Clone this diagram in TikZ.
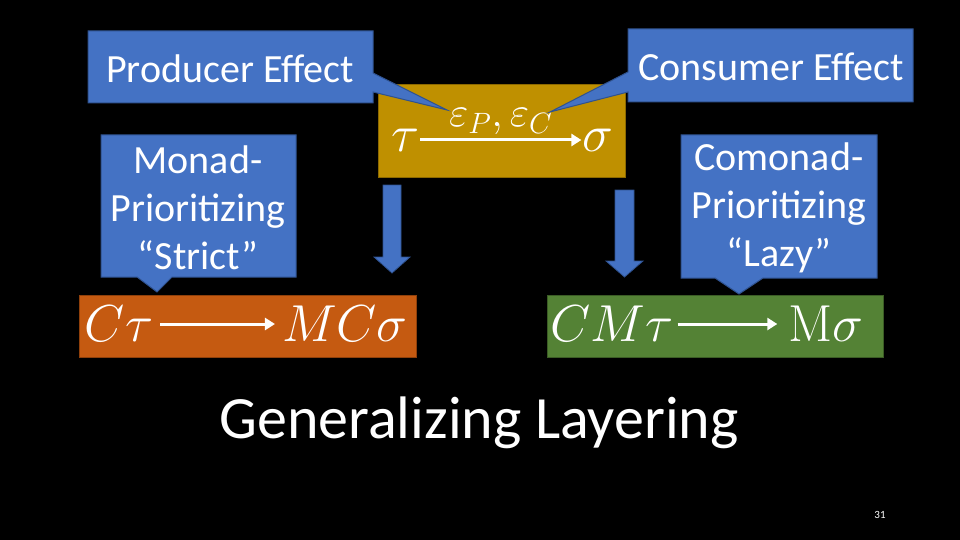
\RequirePackage{fix-cm}
\documentclass[tikz,border=0pt]{standalone}
\usepackage[no-math]{fontspec}
\setmainfont{Carlito}
\usetikzlibrary{arrows.meta}
\begin{document}
\begin{tikzpicture}[x=1pt,y=-1pt,
  callout/.style={fill=cblue,draw=cborder,line width=1pt},
  bigarrow/.style={fill=cblue,draw=cborder,line width=0.8pt},
  ctext/.style={text=white,font=\fontsize{40}{48}\selectfont,align=center},
  mtext/.style={text=white,font=\fontsize{52}{58}\selectfont,inner sep=1pt},
  maparrow/.style={draw=white,line width=3pt,-{Triangle[length=10pt,width=12pt]}}]
\definecolor{cblue}{HTML}{4472C4}
\definecolor{cborder}{HTML}{2F528F}
\definecolor{cgold}{HTML}{BF9000}
\definecolor{cgoldb}{HTML}{8C6900}
\definecolor{corange}{HTML}{C55A11}
\definecolor{corangeb}{HTML}{8F400B}
\definecolor{cgreen}{HTML}{548235}
\definecolor{cgreenb}{HTML}{3B5C25}
\fill[black] (0,0) rectangle (960,540);
\useasboundingbox (0,0) rectangle (960,540);
% gold box
\draw[fill=cgold,draw=cgoldb,line width=1pt] (378,85) rectangle (625,178);
\node[mtext] (tau) at (405,140) {$\tau$};
\node[mtext] (sigma) at (598,140) {$\sigma$};
\draw[maparrow] (tau.east) -- (sigma.west) node[midway,above=0pt,text=white,font=\fontsize{42}{46}\selectfont] (eff) {$\varepsilon_P,\varepsilon_C$};
% producer callout
\draw[callout] (88,31) -- (373,31) -- (373,73) -- (447,110) -- (373,92) -- (373,103) -- (88,103) -- cycle;
\node[ctext] (prod) at (230,69) {Producer Effect};
% consumer callout
\draw[callout] (628,29) -- (913,29) -- (913,102) -- (628,102) -- (628,92) -- (550,112) -- (628,72) -- cycle;
\node[ctext] (cons) at (771,67) {Consumer Effect};
% monad callout
\draw[callout] (101,135) -- (296,135) -- (296,277) -- (172,277) -- (157,292) -- (137,277) -- (101,277) -- cycle;
\node[ctext] (monad) at (198,208) {Monad-\\Prioritizing\\“Strict”};
% comonad callout
\draw[callout] (681,135) -- (877,135) -- (877,278) -- (763,278) -- (739,294) -- (715,278) -- (681,278) -- cycle;
\node[ctext] (comonad) at (779,208) {Comonad-\\Prioritizing\\“Lazy”};
% down arrows
\draw[bigarrow] (383,185) -- (401,185) -- (401,257) -- (410,257) -- (392,273) -- (374,257) -- (383,257) -- cycle;
\draw[bigarrow] (615,190) -- (634,190) -- (634,261) -- (643,261) -- (624.5,277) -- (606,261) -- (615,261) -- cycle;
% orange box
\draw[fill=corange,draw=corangeb,line width=1pt] (79,295) rectangle (416,357);
\node[mtext] (ct) at (119,324) {$C\tau$};
\node[mtext] (mcs) at (345,324) {$MC\sigma$};
\draw[maparrow,shorten <=6pt,shorten >=6pt] (ct.east) -- (mcs.west);
% green box
\draw[fill=cgreen,draw=cgreenb,line width=1pt] (547,295) rectangle (883,357);
\node[mtext] (cmt) at (612,324) {$CM\tau$};
\node[mtext] (ms) at (826,324) {$\mathrm{M}\sigma$};
\draw[maparrow,shorten <=3pt,shorten >=10pt] (cmt.east) -- (ms.west);
% title
\node[text=white,font=\fontsize{60}{66}\selectfont] (title) at (479,423) {Generalizing Layering};
\node[text=white,font=\fontsize{11}{13}\selectfont] (page) at (880,515) {31};
\end{tikzpicture}
\end{document}
